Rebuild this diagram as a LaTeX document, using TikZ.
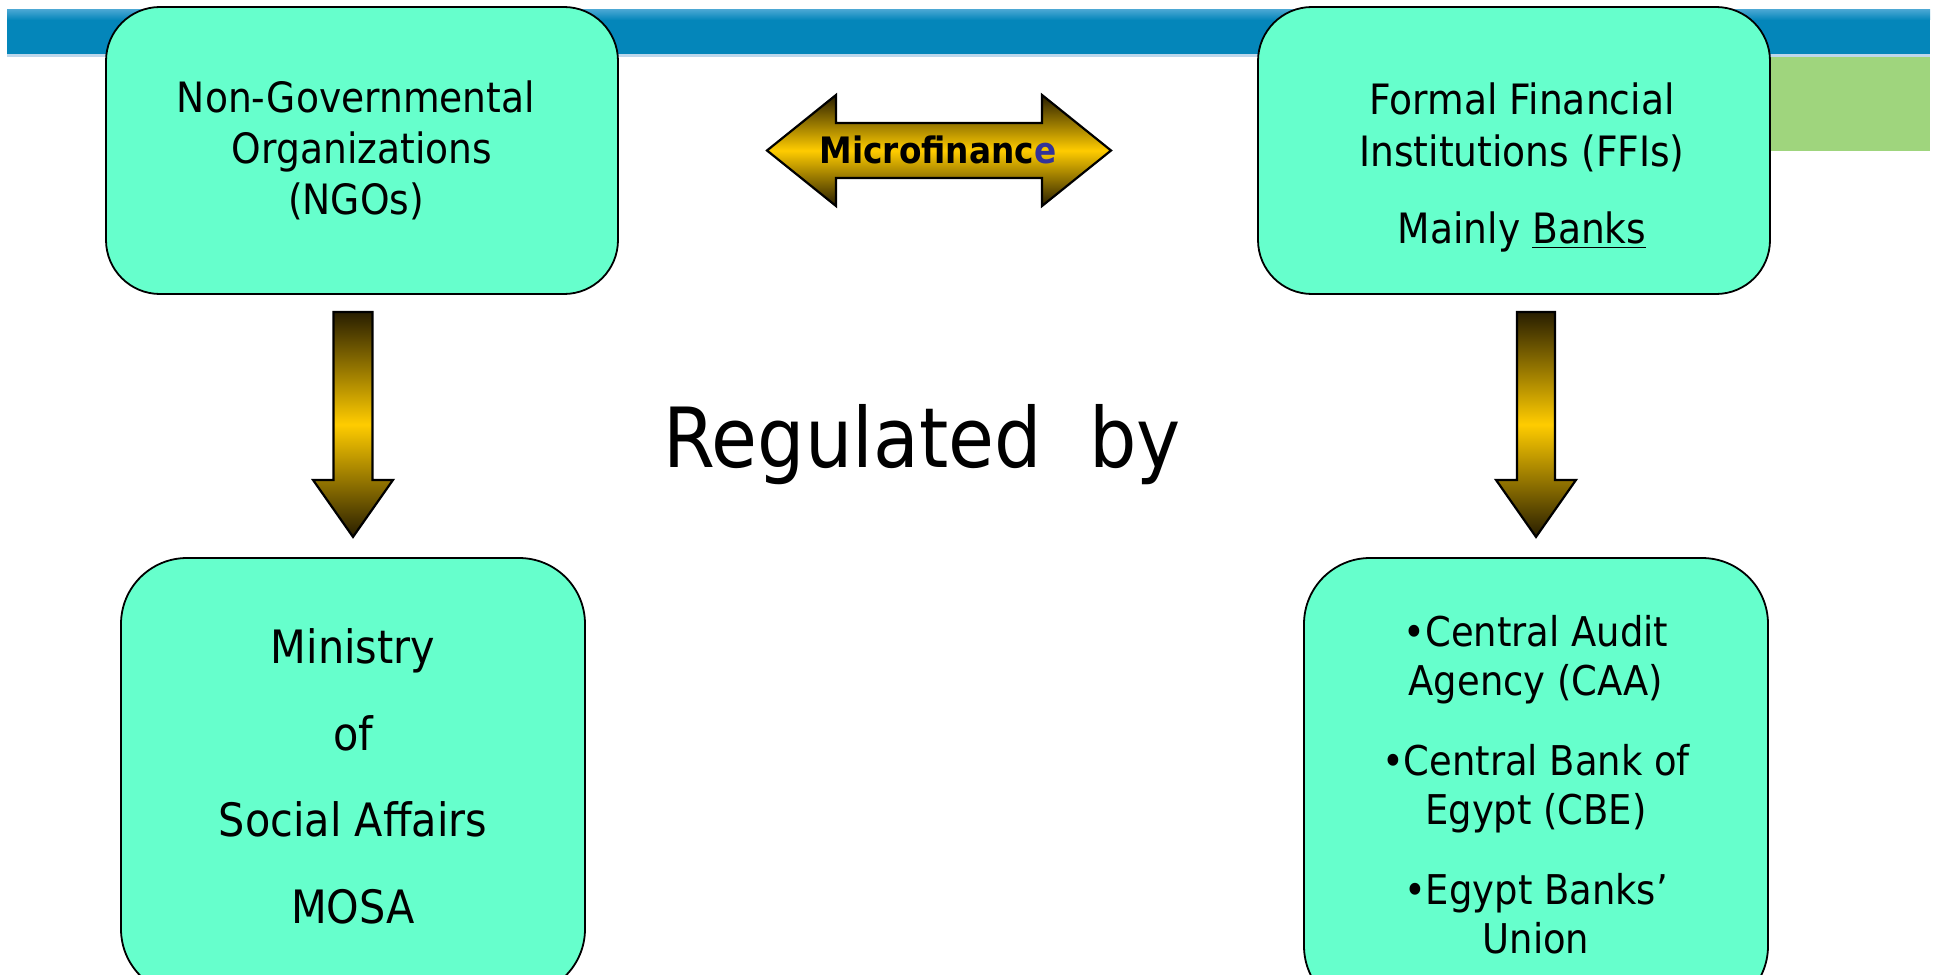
\documentclass[tikz,border=0pt]{standalone}
\usepackage{fontspec}
\setmainfont{DejaVu Sans}[FakeStretch=0.9]
\usetikzlibrary{calc}
\definecolor{barblue}{RGB}{4,134,186}
\definecolor{barlight}{RGB}{70,165,210}
\definecolor{barline}{RGB}{190,215,235}
\definecolor{leafgreen}{RGB}{159,213,125}
\definecolor{boxgreen}{RGB}{102,255,204}
\definecolor{arrgold}{RGB}{255,204,0}
\definecolor{arrdark}{RGB}{40,30,0}
\definecolor{letterblue}{RGB}{51,51,153}
\tikzset{
  >=latex,
}
\tikzstyle{box}=[draw=black,line width=0.9pt,fill=boxgreen,align=center,inner sep=0pt]
\tikzstyle{topbox}=[box,minimum width=256pt,minimum height=143.5pt,rounded corners=27pt,font=\fontsize{20.9}{25.5}\selectfont]
\tikzstyle{lowbox}=[box,minimum width=232pt,rounded corners=33pt]
\tikzstyle{fatarrow}=[draw=black,line width=1.1pt,line join=miter,top color=arrdark,bottom color=arrdark,middle color=arrgold]

\begin{document}
\begin{tikzpicture}[x=0.5pt,y=-0.5pt]
      \useasboundingbox (0,0) rectangle (1937,974);
      \fill[barblue] (7,10) rectangle (1930,56);
      \shade[top color=barlight,bottom color=barblue] (7,10) rectangle (1930,20);
      \fill[barline] (7,54) rectangle (1930,57);
      \fill[leafgreen] (1770,57) rectangle (1930,151);

      \node[topbox] (ngo) at (362,150.5) {Non-Governmental\hspace*{6pt}\\Organizations\hspace*{6pt}\\(NGOs)\hspace*{6pt}};
      \node[topbox] (ffi) at (1514,150.5) {\rule{0pt}{33pt}\hspace*{8pt}Formal Financial\\[0.5pt]\hspace*{8pt}Institutions (FFIs)\\[13pt]\hspace*{8pt}Mainly \underline{Banks}};
      \node[lowbox,minimum height=218.5pt,font=\fontsize{23}{43.3}\selectfont] (mosa) at (353,776.5) {Ministry\\of\\Social Affairs\\MOSA};
      \node[lowbox,minimum height=227pt,font=\fontsize{20.5}{24.5}\selectfont] (bodies) at (1536,785)
        {\textbullet Central Audit\\Agency (CAA)\\[15.5pt]\textbullet Central Bank of\\Egypt (CBE)\\[15.5pt]\textbullet Egypt Banks’\\Union};

      \coordinate (ngoarr) at ($(mosa.north |- ngo.south)+(0,17)$);
      \coordinate (ffiarr) at ($(bodies.north |- ffi.south)+(0,17)$);
      \shadedraw[fatarrow] (ngoarr) -- ++(19.5,0) -- ++(0,168) -- ++(20.5,0) -- ++(-40,57) -- ++(-40,-57) -- ++(20.5,0) -- ++(0,-168) -- cycle;
      \shadedraw[fatarrow] (ffiarr) -- ++(19,0) -- ++(0,168) -- ++(21,0) -- ++(-40,57) -- ++(-40,-57) -- ++(21,0) -- ++(0,-168) -- cycle;

      \coordinate (micro) at (938,150.5);
      \shadedraw[fatarrow] ($(micro)+(-171,0)$) -- ++(69,-55.5) -- ++(0,28) -- ++(206,0) -- ++(0,-28) -- ++(69,55.5) -- ++(-69,55.5) -- ++(0,-28) -- ++(-206,0) -- ++(0,28) -- cycle;
      \node[anchor=base,font=\fontsize{18.2}{22}\selectfont\bfseries] (microtext) at ($(micro)+(0,12.5)$) {Microfinanc\textcolor{letterblue}{e}};

      \node[anchor=base,font=\fontsize{41.5}{50}\selectfont] (reg) at (922,467) {Regulated\ \ by};
    \end{tikzpicture}
\end{document}
